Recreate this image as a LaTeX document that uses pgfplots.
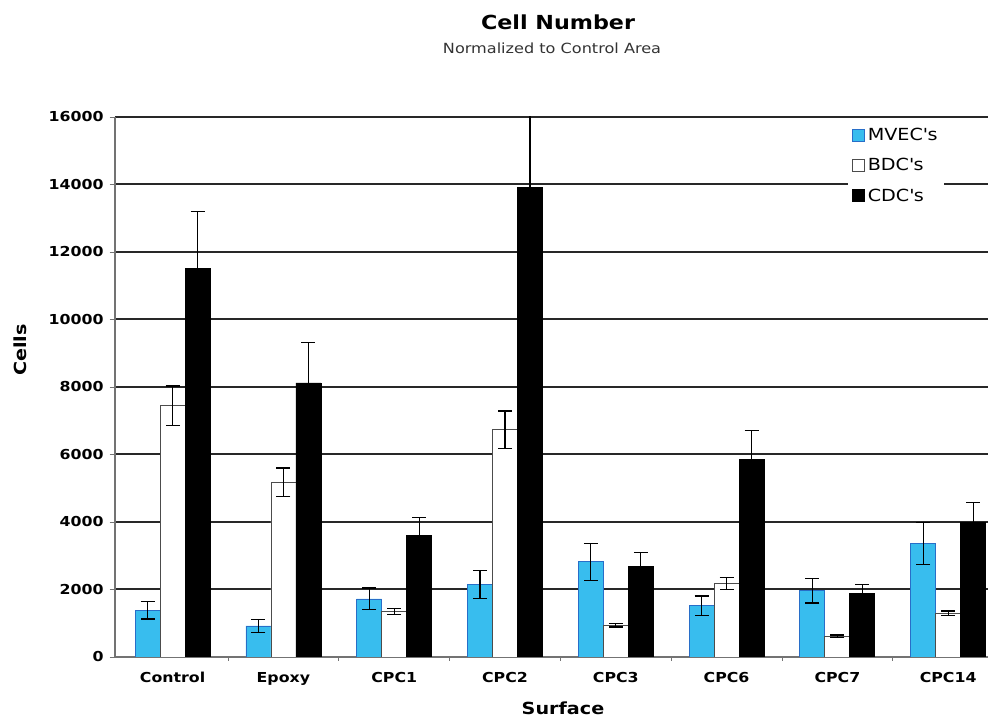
\documentclass[border=0pt]{standalone}
\usepackage{fontspec}
\setmainfont{DejaVu Sans}[FakeStretch=1.15]
\usepackage{pgfplots}
\pgfplotsset{compat=1.18}
\definecolor{mvec}{RGB}{56,189,238}
\definecolor{mvecedge}{RGB}{40,110,200}
\definecolor{gridc}{RGB}{40,40,40}
\begin{document}
\begin{tikzpicture}
\useasboundingbox (-86.25pt,-47.25pt) rectangle (654.75pt,492.75pt);
\begin{axis}[
 at={(0,0)}, anchor=south west,
 scale only axis, width=668.1pt, height=405pt,
 xmin=-0.52, xmax=7.52, ymin=0, ymax=16000,
 ybar=0pt, bar width=18.75pt,
 xtick={0,...,7}, xticklabels={Control,Epoxy,CPC1,CPC2,CPC3,CPC6,CPC7,CPC14},
 minor xtick={0.5,1.5,...,6.5},
 major x tick style={draw=none},
 ytick={0,2000,...,16000},
 ymajorgrids, major grid style={gridc, line width=1.5pt},
 axis x line*=bottom, axis y line*=left,
 axis line style={black!55, line width=0.8pt, -},
 tick align=outside, tick style={black!55, line width=0.6pt},
 major tick length=4pt, minor tick length=3pt,
 /pgf/number format/assume math mode=true,
 /pgf/number format/1000 sep={},
 scaled y ticks=false,
 ticklabel style={font=\bfseries\fontsize{10.3}{11}\selectfont},
 yticklabel style={xshift=-1pt},
 xticklabel style={yshift=-4pt},
 legend style={at={(0.8229,0.9926)}, anchor=north west, draw=none, fill=white,
   font=\fontsize{12.5}{14}\selectfont, row sep=8pt, inner sep=3pt},
 legend cell align=left,
 legend image code/.code={\draw[#1] (0pt,-4.5pt) rectangle (9pt,4.5pt);},
]
\addplot[fill=mvec, draw=mvecedge, line width=0.6pt,
  error bars/.cd, y dir=both, y explicit,
  error bar style={black,line width=1pt},
  error mark options={rotate=90,black,mark size=5.25pt,line width=1pt}]
 coordinates {(0,1390) +- (0,260) (1,920) +- (0,190) (2,1720) +- (0,320) (3,2150) +- (0,420)
  (4,2820) +- (0,545) (5,1515) +- (0,290) (6,1960) +- (0,360) (7,3370) +- (0,620)};
\addlegendentry{MVEC\textquotesingle s}
\addplot[fill=white, draw=black!70, line width=0.6pt,
  error bars/.cd, y dir=both, y explicit,
  error bar style={black,line width=1pt},
  error mark options={rotate=90,black,mark size=5.25pt,line width=1pt}]
 coordinates {(0,7445) +- (0,585) (1,5180) +- (0,420) (2,1350) +- (0,90) (3,6735) +- (0,550)
  (4,940) +- (0,50) (5,2180) +- (0,180) (6,615) +- (0,40) (7,1290) +- (0,70)};
\addlegendentry{BDC\textquotesingle s}
\addplot[fill=black, draw=black, line width=0.6pt,
  error bars/.cd, y dir=both, y explicit,
  error bar style={black,line width=1pt},
  error mark options={rotate=90,black,mark size=5.25pt,line width=1pt}]
 coordinates {(0,11515) +- (0,1690) (1,8120) +- (0,1190) (2,3610) +- (0,520) (3,13900) +- (0,2300)
  (4,2690) +- (0,400) (5,5840) +- (0,870) (6,1880) +- (0,270) (7,3980) +- (0,600)};
\addlegendentry{CDC\textquotesingle s}
\end{axis}
\node[font=\bfseries\fontsize{14.5}{16}\selectfont] at (332.25pt,476.25pt) {Cell Number};
\node[font=\fontsize{10.5}{12}\selectfont, text=black!80] at (327.75pt,456.75pt) {Normalized to Control Area};
\node[font=\bfseries\fontsize{12.5}{14}\selectfont] at (336pt,-38.25pt) {Surface};
\node[rotate=90,font=\bfseries\fontsize{12.5}{14}\selectfont] at (-71.25pt,230.25pt) {Cells};
\end{tikzpicture}
\end{document}
